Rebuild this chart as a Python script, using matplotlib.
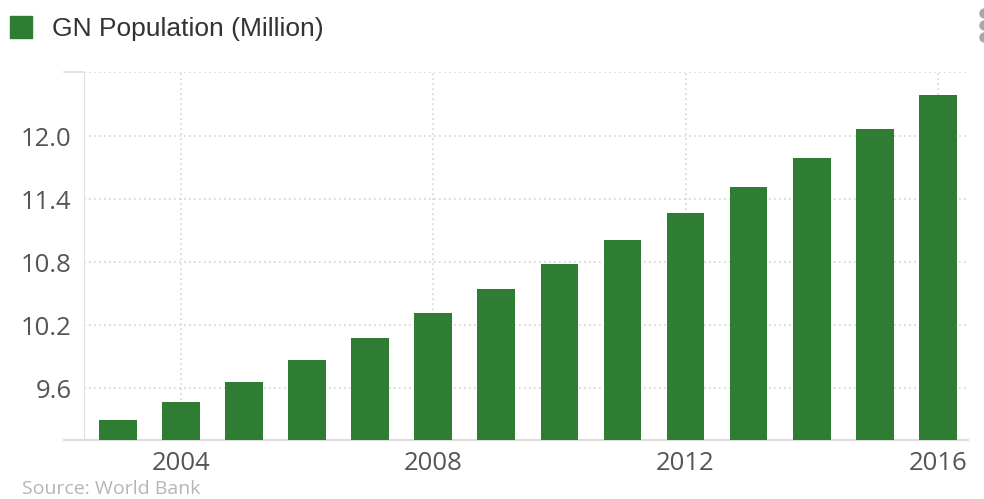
import matplotlib
matplotlib.use("Agg")
import matplotlib.pyplot as plt
from matplotlib.lines import Line2D
from matplotlib.patches import Rectangle

# GN population, million
years = [2003, 2004, 2005, 2006, 2007, 2008, 2009, 2010, 2011, 2012, 2013, 2014, 2015, 2016]
pop = [9.295, 9.467, 9.657, 9.867, 10.076, 10.314, 10.543, 10.781, 11.010, 11.267, 11.514, 11.790, 12.067, 12.390]
xticks = [2004, 2008, 2012, 2016]
yticks = [9.6, 10.2, 10.8, 11.4, 12.0]

green = "#2e7d32"
txt = "#555555"
grid_c = "#d4d4d4"

fig = plt.figure(figsize=(9.84, 4.99), dpi=100)
ax = fig.add_axes([84/984, 59/499, 884/984, 368/499])

ax.bar(years, pop, width=0.6, color=green, zorder=3)
ax.set_xlim(2002.46, 2016.48)
ax.set_ylim(9.105, 12.61)

ax.set_xticks(xticks)
ax.set_xticklabels([str(t) for t in xticks])
ax.set_yticks(yticks)
ax.set_yticklabels(["%.1f" % t for t in yticks])
ax.tick_params(axis="both", length=0, labelsize=18.5, labelcolor=txt)
ax.tick_params(axis="x", pad=8)
ax.tick_params(axis="y", pad=9)
for lab in ax.get_xticklabels() + ax.get_yticklabels():
    lab.set_fontfamily("Open Sans")

ax.grid(True, color=grid_c, linestyle=(0, (1, 2)), linewidth=1.2, zorder=0)
for s in ["top", "right"]:
    ax.spines[s].set_visible(False)
ax.spines["left"].set_color("#e0e0e0")
ax.spines["bottom"].set_color("#dcdcdc")
ax.spines["bottom"].set_linewidth(1.5)
ax.axhline(12.61, color=grid_c, linestyle=(0, (1, 2)), linewidth=1.2, zorder=0)

# small lines sticking out left of the axis, top and bottom
ax.add_line(Line2D([-20/884, 0], [0, 0], transform=ax.transAxes, color="#dcdcdc", lw=1.5, clip_on=False))
ax.add_line(Line2D([-20/884, 0], [1, 1], transform=ax.transAxes, color="#e0e0e0", lw=1.2, clip_on=False))

# legend
fig.add_artist(Rectangle((10/984, 1 - 38/499), 22/984, 22/499, transform=fig.transFigure, color=green))
fig.text(52/984, 1 - 29/499, "GN Population (Million)", fontsize=19, color="#333333",
         family="Liberation Sans", va="center", ha="left")

fig.text(22/984, 1/499, "Source: World Bank", fontsize=14, color="#b5b5b5",
         family="Open Sans", va="bottom", ha="left")

# menu dots, top right
for y in [13, 25, 37]:
    fig.add_artist(Line2D([984/984], [1 - y/499], transform=fig.transFigure, marker="o",
                          markersize=6.5, color="#a8a8a8", linestyle="none"))

fig.savefig("out.png", dpi=100)
